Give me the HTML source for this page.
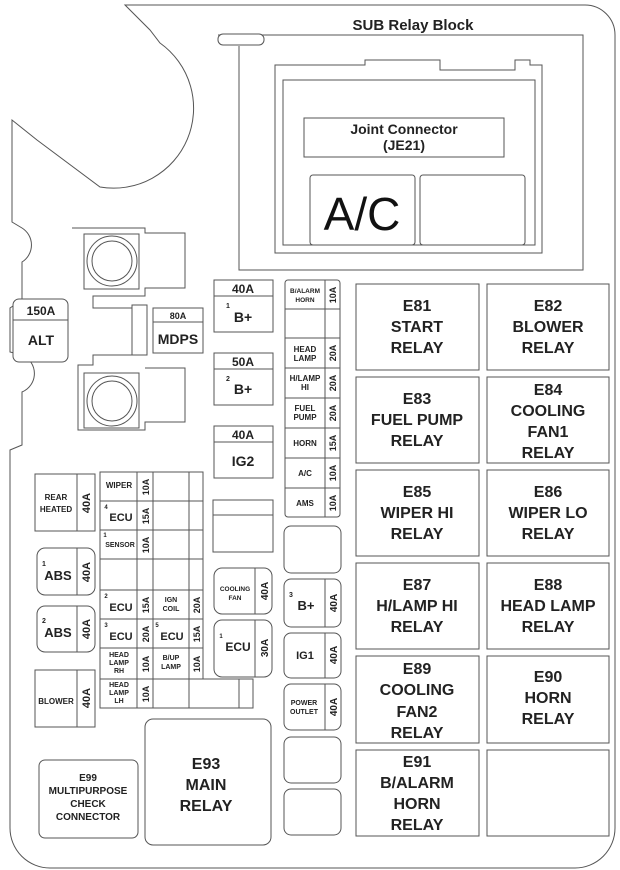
<!DOCTYPE html>
<html><head><meta charset="utf-8"><style>
html,body{margin:0;padding:0;background:#fff}
svg{display:block}
text{font-family:"Liberation Sans",Arial,sans-serif;font-weight:bold;fill:#222;text-anchor:middle}
.l{fill:none;stroke:#555;stroke-width:1}
.b{fill:#fff;stroke:#555;stroke-width:1}
.r{font-size:16px}
.s{font-size:8px}
.m{font-size:12px}
</style></head><body>
<svg width="620" height="870" viewBox="0 0 620 870" xmlns="http://www.w3.org/2000/svg">
<!-- outer frame -->
<path class="l" d="M125,5 L585,5 A30,30 0 0 1 615,35 L615,828 A40,40 0 0 1 575,868 L50,868 A40,40 0 0 1 10,828 L10,450 L22,445 L22,392 A20,20 0 0 0 22,355 L10,352 L10,308 L22,300 L22,262 A20,20 0 0 0 22,228 L12,222 L12,120 L37,140 L100,187 A80,80 0 0 0 160,43 L150,30 Z"/>
<path class="l" d="M72,228 L145,228 L145,233 L185,233 L185,288 L145,288 L145,296 L93,296 L93,308 L145,308 L145,355 L93,355 L93,365 L78,365 L78,430 L145,430 L145,422 L185,422 L185,368 L145,368"/>
<rect class="b" x="84" y="234" width="55" height="55"/>
<circle class="l" cx="112" cy="261" r="25"/><circle class="l" cx="112" cy="261" r="20"/>
<rect class="b" x="84" y="373" width="55" height="55"/>
<circle class="l" cx="112" cy="401" r="25"/><circle class="l" cx="112" cy="401" r="20"/>
<rect class="b" x="132" y="305" width="15" height="50"/>
<rect class="b" x="13" y="299" width="55" height="63" rx="6"/><line class="l" x1="13" y1="320" x2="68" y2="320"/>
<text class="m" x="41" y="315">150A</text><text class="m" x="41" y="345" style="font-size:14px">ALT</text>
<rect class="b" x="153" y="308" width="50" height="45"/><line class="l" x1="153" y1="322" x2="203" y2="322"/>
<text x="178" y="319" style="font-size:9px">80A</text><text x="178" y="344" style="font-size:14px">MDPS</text>

<!-- SUB relay block -->
<text x="413" y="30" style="font-size:15px">SUB Relay Block</text>
<path class="l" d="M218,35 L583,35 L583,270 L239,270 L239,46"/>
<rect class="b" x="218" y="34" width="46" height="11" rx="5"/>
<path class="l" d="M275,65 L365,65 L365,60 L440,60 L440,70 L515,70 L515,60 L530,60 L530,65 L542,65 L542,253 L275,253 Z"/>
<path class="l" d="M283,80 L535,80 L535,245 L283,245 Z"/>
<rect class="b" x="304" y="118" width="200" height="39"/>
<text x="404" y="134" style="font-size:14px">Joint Connector</text>
<text x="404" y="150" style="font-size:14px">(JE21)</text>
<rect class="b" x="310" y="175" width="105" height="70" rx="3"/>
<rect class="b" x="420" y="175" width="105" height="70" rx="3"/>
<text x="362" y="230" style="font-size:46px;font-weight:normal;fill:#111">A/C</text>

<!-- relays -->
<g>
<rect class="b" x="356" y="284" width="123" height="86"/><rect class="b" x="487" y="284" width="122" height="86"/>
<rect class="b" x="356" y="377" width="123" height="86"/><rect class="b" x="487" y="377" width="122" height="86"/>
<rect class="b" x="356" y="470" width="123" height="86"/><rect class="b" x="487" y="470" width="122" height="86"/>
<rect class="b" x="356" y="563" width="123" height="86"/><rect class="b" x="487" y="563" width="122" height="86"/>
<rect class="b" x="356" y="656" width="123" height="87"/><rect class="b" x="487" y="656" width="122" height="87"/>
<rect class="b" x="356" y="750" width="123" height="86"/><rect class="b" x="487" y="750" width="122" height="86"/>
</g>
<g class="r">
<text class="r" x="417" y="311">E81</text><text class="r" x="417" y="332">START</text><text class="r" x="417" y="353">RELAY</text>
<text class="r" x="548" y="311">E82</text><text class="r" x="548" y="332">BLOWER</text><text class="r" x="548" y="353">RELAY</text>
<text class="r" x="417" y="404">E83</text><text class="r" x="417" y="425">FUEL PUMP</text><text class="r" x="417" y="446">RELAY</text>
<text class="r" x="548" y="395">E84</text><text class="r" x="548" y="416">COOLING</text><text class="r" x="548" y="437">FAN1</text><text class="r" x="548" y="458">RELAY</text>
<text class="r" x="417" y="497">E85</text><text class="r" x="417" y="518">WIPER HI</text><text class="r" x="417" y="539">RELAY</text>
<text class="r" x="548" y="497">E86</text><text class="r" x="548" y="518">WIPER LO</text><text class="r" x="548" y="539">RELAY</text>
<text class="r" x="417" y="590">E87</text><text class="r" x="417" y="611">H/LAMP HI</text><text class="r" x="417" y="632">RELAY</text>
<text class="r" x="548" y="590">E88</text><text class="r" x="548" y="611">HEAD LAMP</text><text class="r" x="548" y="632">RELAY</text>
<text class="r" x="417" y="674">E89</text><text class="r" x="417" y="695">COOLING</text><text class="r" x="417" y="717">FAN2</text><text class="r" x="417" y="738">RELAY</text>
<text class="r" x="548" y="682">E90</text><text class="r" x="548" y="703">HORN</text><text class="r" x="548" y="724">RELAY</text>
<text class="r" x="417" y="767">E91</text><text class="r" x="417" y="788">B/ALARM</text><text class="r" x="417" y="809">HORN</text><text class="r" x="417" y="830">RELAY</text>
</g>

<!-- B+ / IG2 fuses -->
<rect class="b" x="214" y="280" width="59" height="52"/><line class="l" x1="214" y1="296" x2="273" y2="296"/>
<text class="m" x="243" y="293">40A</text><text x="243" y="322" style="font-size:14px">B+</text><text x="228" y="308" style="font-size:7px">1</text>
<rect class="b" x="214" y="353" width="59" height="52"/><line class="l" x1="214" y1="369" x2="273" y2="369"/>
<text class="m" x="243" y="366">50A</text><text x="243" y="394" style="font-size:14px">B+</text><text x="228" y="381" style="font-size:7px">2</text>
<rect class="b" x="214" y="426" width="59" height="52"/><line class="l" x1="214" y1="442" x2="273" y2="442"/>
<text class="m" x="243" y="439">40A</text><text x="243" y="466" style="font-size:14px">IG2</text>

<!-- small fuse strip -->
<rect class="b" x="285" y="280" width="55" height="237" rx="3"/>
<line class="l" x1="325" y1="280" x2="325" y2="517"/>
<g class="l">
<line x1="285" y1="309" x2="340" y2="309"/><line x1="285" y1="338" x2="340" y2="338"/>
<line x1="285" y1="368" x2="340" y2="368"/><line x1="285" y1="398" x2="340" y2="398"/>
<line x1="285" y1="428" x2="340" y2="428"/><line x1="285" y1="458" x2="340" y2="458"/>
<line x1="285" y1="488" x2="340" y2="488"/>
</g>
<g class="s">
<text class="s" x="305" y="293" style="font-size:6.5px">B/ALARM</text><text class="s" x="305" y="302" style="font-size:6.5px">HORN</text>
<text class="s" x="305" y="352">HEAD</text><text class="s" x="305" y="361">LAMP</text>
<text class="s" x="305" y="381">H/LAMP</text><text class="s" x="305" y="390">HI</text>
<text class="s" x="305" y="411">FUEL</text><text class="s" x="305" y="420">PUMP</text>
<text class="s" x="305" y="446">HORN</text>
<text class="s" x="305" y="476">A/C</text>
<text class="s" x="305" y="506">AMS</text>
</g>
<g style="font-size:9px">
<text transform="translate(336,295) rotate(-90)" style="font-size:9px">10A</text>
<text transform="translate(336,353) rotate(-90)" style="font-size:9px">20A</text>
<text transform="translate(336,383) rotate(-90)" style="font-size:9px">20A</text>
<text transform="translate(336,413) rotate(-90)" style="font-size:9px">20A</text>
<text transform="translate(336,443) rotate(-90)" style="font-size:9px">15A</text>
<text transform="translate(336,473) rotate(-90)" style="font-size:9px">10A</text>
<text transform="translate(336,503) rotate(-90)" style="font-size:9px">10A</text>
</g>

<!-- left column -->
<rect class="b" x="35" y="474" width="60" height="57"/><line class="l" x1="77" y1="474" x2="77" y2="531"/>
<text class="s" x="56" y="500">REAR</text><text class="s" x="56" y="512">HEATED</text>
<text transform="translate(90,503) rotate(-90)" style="font-size:11px">40A</text>
<rect class="b" x="37" y="548" width="58" height="47" rx="8"/><line class="l" x1="77" y1="548" x2="77" y2="595"/>
<text x="58" y="580" style="font-size:13px">ABS</text><text x="44" y="566" style="font-size:7px">1</text>
<text transform="translate(90,572) rotate(-90)" style="font-size:11px">40A</text>
<rect class="b" x="37" y="606" width="58" height="46" rx="8"/><line class="l" x1="77" y1="606" x2="77" y2="652"/>
<text x="58" y="637" style="font-size:13px">ABS</text><text x="44" y="623" style="font-size:7px">2</text>
<text transform="translate(90,629) rotate(-90)" style="font-size:11px">40A</text>
<rect class="b" x="35" y="670" width="60" height="57"/><line class="l" x1="77" y1="670" x2="77" y2="727"/>
<text class="s" x="56" y="704">BLOWER</text>
<text transform="translate(90,698) rotate(-90)" style="font-size:11px">40A</text>

<!-- middle grid -->
<rect class="b" x="100" y="472" width="103" height="236"/>
<rect class="b" x="100" y="679" width="153" height="29"/>
<g class="l">
<line x1="137" y1="472" x2="137" y2="708"/><line x1="153" y1="472" x2="153" y2="708"/>
<line x1="189" y1="472" x2="189" y2="708"/><line x1="239" y1="679" x2="239" y2="708"/>
<line x1="100" y1="501" x2="203" y2="501"/><line x1="100" y1="530" x2="203" y2="530"/>
<line x1="100" y1="559" x2="203" y2="559"/><line x1="100" y1="590" x2="203" y2="590"/>
<line x1="100" y1="619" x2="203" y2="619"/><line x1="100" y1="648" x2="203" y2="648"/>
</g>
<text class="s" x="119" y="488">WIPER</text>
<text x="121" y="521" style="font-size:11px">ECU</text><text x="106" y="509" style="font-size:6px">4</text>
<text x="105" y="537" style="font-size:6px">1</text><text class="s" x="120" y="547" style="font-size:7px">SENSOR</text>
<text x="121" y="611" style="font-size:11px">ECU</text><text x="106" y="598" style="font-size:6px">2</text>
<text x="121" y="640" style="font-size:11px">ECU</text><text x="106" y="627" style="font-size:6px">3</text>
<text class="s" x="119" y="657" style="font-size:7px">HEAD</text><text class="s" x="119" y="665" style="font-size:7px">LAMP</text><text class="s" x="119" y="673" style="font-size:7px">RH</text>
<text class="s" x="119" y="687" style="font-size:7px">HEAD</text><text class="s" x="119" y="695" style="font-size:7px">LAMP</text><text class="s" x="119" y="703" style="font-size:7px">LH</text>
<text x="172" y="640" style="font-size:11px">ECU</text><text x="157" y="627" style="font-size:6px">5</text>
<text class="s" x="171" y="602" style="font-size:7px">IGN</text><text class="s" x="171" y="611" style="font-size:7px">COIL</text>
<text class="s" x="171" y="660" style="font-size:7px">B/UP</text><text class="s" x="171" y="669" style="font-size:7px">LAMP</text>
<g>
<text transform="translate(149,487) rotate(-90)" style="font-size:9px">10A</text>
<text transform="translate(149,516) rotate(-90)" style="font-size:9px">15A</text>
<text transform="translate(149,545) rotate(-90)" style="font-size:9px">10A</text>
<text transform="translate(149,605) rotate(-90)" style="font-size:9px">15A</text>
<text transform="translate(149,634) rotate(-90)" style="font-size:9px">20A</text>
<text transform="translate(149,664) rotate(-90)" style="font-size:9px">10A</text>
<text transform="translate(149,694) rotate(-90)" style="font-size:9px">10A</text>
<text transform="translate(200,605) rotate(-90)" style="font-size:9px">20A</text>
<text transform="translate(200,634) rotate(-90)" style="font-size:9px">15A</text>
<text transform="translate(200,664) rotate(-90)" style="font-size:9px">10A</text>
</g>

<!-- right-mid column -->
<rect class="b" x="213" y="500" width="60" height="52"/><line class="l" x1="213" y1="515" x2="273" y2="515"/>
<rect class="b" x="214" y="568" width="58" height="46" rx="8"/><line class="l" x1="255" y1="568" x2="255" y2="614"/>
<text class="s" x="235" y="591" style="font-size:6.5px">COOLING</text><text class="s" x="235" y="600" style="font-size:6.5px">FAN</text>
<text transform="translate(268,591) rotate(-90)" style="font-size:10px">40A</text>
<rect class="b" x="214" y="620" width="58" height="57" rx="8"/><line class="l" x1="255" y1="620" x2="255" y2="677"/>
<text x="238" y="651" style="font-size:12px">ECU</text><text x="221" y="638" style="font-size:6px">1</text>
<text transform="translate(268,648) rotate(-90)" style="font-size:10px">30A</text>

<rect class="b" x="284" y="526" width="57" height="47" rx="7"/>
<rect class="b" x="284" y="579" width="57" height="48" rx="7"/><line class="l" x1="325" y1="579" x2="325" y2="627"/>
<text x="306" y="610" style="font-size:13px">B+</text><text x="291" y="597" style="font-size:7px">3</text>
<text transform="translate(337,603) rotate(-90)" style="font-size:10px">40A</text>
<rect class="b" x="284" y="633" width="57" height="45" rx="7"/><line class="l" x1="325" y1="633" x2="325" y2="678"/>
<text x="305" y="659" style="font-size:11px">IG1</text>
<text transform="translate(337,655) rotate(-90)" style="font-size:10px">40A</text>
<rect class="b" x="284" y="684" width="57" height="46" rx="7"/><line class="l" x1="325" y1="684" x2="325" y2="730"/>
<text class="s" x="304" y="705" style="font-size:7px">POWER</text><text class="s" x="304" y="714" style="font-size:7px">OUTLET</text>
<text transform="translate(337,707) rotate(-90)" style="font-size:10px">40A</text>
<rect class="b" x="284" y="737" width="57" height="46" rx="7"/>
<rect class="b" x="284" y="789" width="57" height="46" rx="7"/>

<!-- E93, E99 -->
<rect class="b" x="145" y="719" width="126" height="126" rx="8"/>
<text x="206" y="769" style="font-size:16px">E93</text><text x="206" y="790" style="font-size:16px">MAIN</text><text x="206" y="811" style="font-size:16px">RELAY</text>
<rect class="b" x="39" y="760" width="99" height="78" rx="6"/>
<text x="88" y="781" style="font-size:10px">E99</text><text x="88" y="794" style="font-size:10px">MULTIPURPOSE</text>
<text x="88" y="807" style="font-size:10px">CHECK</text><text x="88" y="820" style="font-size:10px">CONNECTOR</text>
</svg>
</body></html>
